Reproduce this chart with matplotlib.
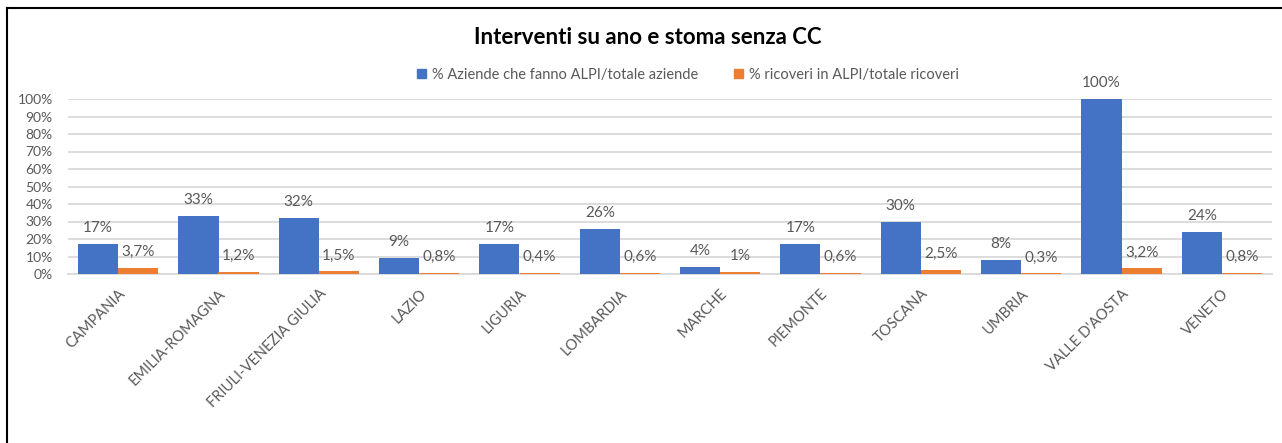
import numpy as np
import matplotlib
matplotlib.use("Agg")
import matplotlib.pyplot as plt
from matplotlib.lines import Line2D
from matplotlib.patches import Patch

plt.rcParams['font.family'] = ['Lato', 'DejaVu Sans']

# regions and the two percentages per region
regioni = ['CAMPANIA', 'EMILIA-ROMAGNA', 'FRIULI-VENEZIA GIULIA', 'LAZIO', 'LIGURIA',
           'LOMBARDIA', 'MARCHE', 'PIEMONTE', 'TOSCANA', 'UMBRIA', "VALLE D'AOSTA", 'VENETO']
aziende = [17, 33, 32, 9, 17, 26, 4, 17, 30, 8, 100, 24]
ricoveri = [3.7, 1.2, 1.5, 0.8, 0.4, 0.6, 1, 0.6, 2.5, 0.3, 3.2, 0.8]
serie = ['% Aziende che fanno ALPI/totale aziende', '% ricoveri in ALPI/totale ricoveri']

BLU = '#4472C4'
ARANCIO = '#ED7D31'
GRIGIO = '#595959'

fig = plt.figure(figsize=(12.82, 4.43), dpi=100)
ax = fig.add_axes([68/1282, 1-274/443, (1272-68)/1282, 175/443])

x = np.arange(len(regioni))
w = 0.4
b1 = ax.bar(x - w/2, aziende, w, color=BLU, zorder=3)
b2 = ax.bar(x + w/2, ricoveri, w, color=ARANCIO, zorder=3)

def fmt(v):
    return '{:g}%'.format(v).replace('.', ',')

for bars, vals in ((b1, aziende), (b2, ricoveri)):
    for r, v in zip(bars, vals):
        ax.annotate(fmt(v), (r.get_x() + r.get_width()/2, v), xytext=(0, 11.5),
                    textcoords='offset points', ha='center', va='center',
                    fontsize=11, color=GRIGIO)

ax.set_xlim(-0.5, len(regioni) - 0.5)
ax.set_ylim(0, 100)
ax.set_yticks(np.arange(0, 101, 10))
ax.set_yticklabels([f'{t}%' for t in range(0, 101, 10)])
ax.yaxis.grid(True, color='#D9D9D9', linewidth=1.3, zorder=0)
ax.set_axisbelow(True)
for s in ('left', 'right', 'top'):
    ax.spines[s].set_visible(False)
ax.spines['bottom'].set_color('#D9D9D9')
ax.spines['bottom'].set_linewidth(1.3)
ax.tick_params(axis='both', length=0, colors=GRIGIO, labelsize=10)
ax.tick_params(axis='x', labelsize=10.5, pad=9)
ax.tick_params(axis='y', pad=11)
ax.set_xticks(x)
ax.set_xticklabels(regioni, rotation=45, ha='right', va='top', rotation_mode='anchor')

fig.text(648/1282, 1-37/443, 'Interventi su ano e stoma senza CC', ha='center', va='center',
         fontsize=16, fontweight='bold', color='black')

handles = [Patch(color=BLU), Patch(color=ARANCIO)]
fig.legend(handles, serie, loc='center', bbox_to_anchor=(688/1282, 1-75/443), ncol=2,
           frameon=False, fontsize=10.5, labelcolor=GRIGIO, handlelength=0.6, handleheight=0.6,
           handletextpad=0.4, columnspacing=2.5)

# outer frame (left and top edges)
fig.add_artist(Line2D([7/1282, 7/1282], [0, 1-8/443], color='black', linewidth=1.5,
                      transform=fig.transFigure))
fig.add_artist(Line2D([7/1282, 1], [1-8/443, 1-8/443], color='black', linewidth=1.5,
                      transform=fig.transFigure))

fig.savefig('out.png', dpi=100)
